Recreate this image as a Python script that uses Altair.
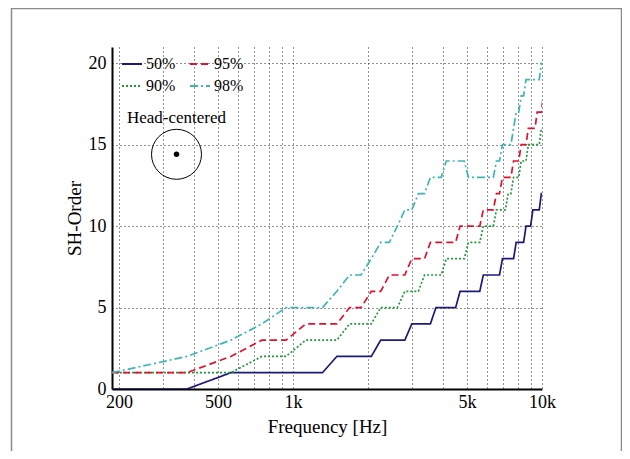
import altair as alt
import pandas as pd

# Frequency grid (Hz)
freq = [187.5, 375, 562.5, 750, 937.5, 1125, 1312.5, 1500, 1687.5, 1875,
        2062.5, 2250, 2437.5, 2625, 2812.5, 3000, 3187.5, 3375, 3562.5, 3750,
        3937.5, 4125, 4312.5, 4500, 4687.5, 4875, 5062.5, 5250, 5437.5, 5625,
        5812.5, 6000, 6187.5, 6375, 6562.5, 6750, 6937.5, 7125, 7312.5, 7500,
        7687.5, 7875, 8062.5, 8250, 8437.5, 8625, 8812.5, 9000, 9187.5, 9375,
        9562.5, 9750, 9937.5, 10125]

p50 = [0, 0, 1, 1, 1, 1, 1, 2, 2, 2, 2, 3, 3, 3, 3, 4, 4, 4, 4, 5,
       5, 5, 5, 5, 6, 6, 6, 6, 6, 6, 7, 7, 7, 7, 7, 7, 8, 8, 8, 8,
       8, 9, 9, 9, 9, 10, 10, 10, 11, 11, 11, 11, 12, 12]
p90 = [1, 1, 1, 2, 2, 3, 3, 3, 4, 4, 4, 5, 5, 5, 6, 6, 6, 7, 7, 7,
       7, 8, 8, 8, 8, 8, 9, 9, 9, 9, 10, 10, 10, 10, 11, 11, 11, 11, 12, 12,
       13, 13, 13, 14, 14, 14, 15, 15, 15, 15, 15, 15, 16, 16]
p95 = [1, 1, 2, 3, 3, 4, 4, 4, 5, 5, 6, 6, 7, 7, 7, 8, 8, 8, 9, 9,
       9, 9, 9, 9, 10, 10, 10, 10, 10, 10, 11, 11, 11, 11, 12, 12, 13, 13, 13, 13,
       14, 14, 14, 15, 15, 15, 16, 16, 16, 16, 17, 17, 17, 18]
p98 = [1, 2, 3, 4, 5, 5, 5, 6, 7, 7, 8, 9, 9, 10, 11, 11, 12, 12, 13, 13,
       13, 14, 14, 14, 14, 14, 13, 13, 13, 13, 13, 13, 13, 13, 14, 14, 15, 15, 15, 15,
       16, 17, 17, 18, 18, 19, 19, 19, 19, 19, 19, 19, 20, 20]

series_names = ["50%", "90%", "95%", "98%"]
series_colors = ["#1c1a78", "#1f9a3a", "#e0112e", "#3db5b8"]
series_dashes = [[1, 0], [2, 2], [7, 4], [8, 3, 2, 3]]

grid_vals = [200, 300, 400, 500, 600, 700, 800, 900, 1000,
             2000, 3000, 4000, 5000, 6000, 7000, 8000, 9000, 10000]
tick_labels = {200: "200", 500: "500", 1000: "1k", 5000: "5k", 10000: "10k"}
y_ticks = [0, 5, 10, 15, 20]

rows = []
for name, vals in zip(series_names, [p50, p90, p95, p98]):
    for f, v in zip(freq, vals):
        rows.append({"freq": f, "order": v, "series": name})
df = pd.DataFrame(rows)

label_expr = " : ".join(
    [f"datum.value == {k} ? '{v}'" for k, v in tick_labels.items()]) + " : ''"

FONT = "Liberation Serif"

leg = alt.Legend(orient="none", legendX=9, legendY=6, columns=2, title=None,
                 values=series_names,
                 symbolType="stroke", symbolSize=400, symbolStrokeWidth=1.8,
                 labelFont=FONT, labelFontSize=16, labelColor="black",
                 labelOffset=3, columnPadding=10, rowPadding=3,
                 padding=0)

lines = alt.Chart(df).mark_line(clip=True, strokeWidth=1.7).encode(
    x=alt.X("freq:Q",
            scale=alt.Scale(type="log", domain=[187.5, 10000], nice=False),
            axis=alt.Axis(values=grid_vals, labelExpr=label_expr, grid=True,
                          gridDash=[1, 3], gridColor="#222", gridWidth=1,
                          ticks=False, domainColor="black", domainWidth=2,
                          labelFont=FONT, labelFontSize=18, labelColor="black",
                          labelPadding=4, labelOverlap=False, labelFlush=False,
                          title="Frequency [Hz]", titleFont=FONT,
                          titleFontSize=19, titleFontWeight="normal",
                          titleColor="black", titlePadding=6)),
    y=alt.Y("order:Q",
            scale=alt.Scale(domain=[0, 21], nice=False),
            axis=alt.Axis(values=y_ticks, grid=True, gridDash=[1, 3],
                          gridColor="#222", gridWidth=1, ticks=False,
                          domainColor="black", domainWidth=2,
                          labelFont=FONT, labelFontSize=18, labelColor="black",
                          labelPadding=6, labelFlush=False,
                          title="SH-Order", titleFont=FONT, titleFontSize=19,
                          titleFontWeight="normal", titleColor="black",
                          titlePadding=4)),
    color=alt.Color("series:N",
                    scale=alt.Scale(domain=series_names, range=series_colors),
                    legend=leg),
    strokeDash=alt.StrokeDash("series:N",
                              scale=alt.Scale(domain=series_names,
                                              range=series_dashes),
                              legend=leg),
)

dummy = pd.DataFrame({"a": [0]})

label = alt.Chart(dummy).mark_text(
    text="Head-centered", font=FONT, fontSize=17, color="black",
    align="center", baseline="alphabetic"
).encode(x=alt.value(64.5), y=alt.value(76))

ring = alt.Chart(dummy).mark_point(
    shape="circle", size=2500, filled=False, color="black", strokeWidth=1,
    opacity=1
).encode(x=alt.value(64.5), y=alt.value(107.3))

dot = alt.Chart(dummy).mark_point(
    shape="circle", size=30, filled=True, color="black", opacity=1
).encode(x=alt.value(64.5), y=alt.value(107.3))

frame = alt.Chart(dummy).mark_rect(
    fillOpacity=0, stroke="#8a8a8a", strokeWidth=1.5, clip=False
).encode(x=alt.value(-100.5), x2=alt.value(509.5), y=alt.value(-38.5),
         y2=alt.value(460))

chart = alt.layer(frame, lines, label, ring, dot).properties(
    width=430, height=342,
    autosize=alt.AutoSizeParams(type="none"),
    padding={"left": 104, "top": 39, "right": 80, "bottom": 62},
).configure_view(strokeWidth=0)

chart.save("out.html", embed_options={"renderer": "svg", "actions": False})
